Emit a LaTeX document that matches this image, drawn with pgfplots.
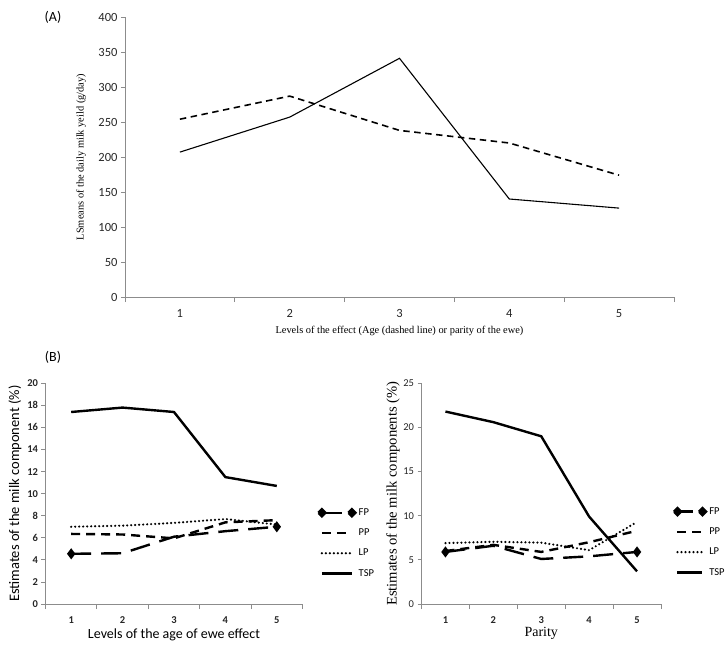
\documentclass[border=0pt]{standalone}
\usepackage{fontspec}
\setmainfont{Carlito}
\newfontfamily\timesf{Liberation Serif}
\usepackage{pgfplots}
\pgfplotsset{compat=1.18}

\pgfplotsset{
 excelaxis/.style={
  scale only axis,
  axis x line=bottom, axis y line=left,
  axis line style={-, draw=black!45, line width=0.8pt},
  xmin=0.5, xmax=5.5,
  xtick={1,2,3,4,5},
  minor xtick={0.5,1.5,2.5,3.5,4.5,5.5},
  major x tick style={draw=none},
  minor x tick style={draw=black!45, line width=0.8pt},
  y tick style={draw=black!45, line width=0.8pt},
  tick align=outside,
  major tick length=4pt, minor tick length=5pt,
  /pgf/number format/assume math mode=true,
  clip=false,
 },
 fpstyle/.style={black, line width=2.4pt, dash pattern=on 20pt off 10pt, mark=diamond*, mark indices={1,5}, mark size=3.6pt, mark options={solid}},
 ppstyle/.style={black, line width=2.4pt, dash pattern=on 9pt off 6pt},
 lpstyle/.style={black, line width=2.4pt, line cap=round, dash pattern=on 0pt off 4pt},
 tspstyle/.style={black, line width=2.4pt},
}

\begin{document}
\begin{tikzpicture}[x=1pt,y=1pt]
\path[use as bounding box] (0,0) rectangle (726,-649);

\node[font=\fontsize{14}{16}\selectfont] at (53,-17) {(A)};
\node[font=\fontsize{14}{16}\selectfont] at (53,-357) {(B)};

% ---------- Panel A ----------
\begin{axis}[excelaxis, at={(125pt,-297pt)}, anchor=south west, width=549pt, height=280pt,
 ymin=0, ymax=400, ytick distance=50,
 ticklabel style={font=\fontsize{12.5}{14}\selectfont, text=black!85},
 xticklabel style={yshift=-5pt},
 ylabel={\timesf LSmeans of the daily milk yeild (g/day)},
 ylabel style={font=\fontsize{10.4}{12}\selectfont, at={(axis description cs:-0.080,0.5)}, anchor=center},
 xlabel={\timesf Levels of the effect (Age (dashed line) or parity of the ewe)},
 xlabel style={font=\fontsize{10.4}{12}\selectfont, at={(axis description cs:0.5,-0.121)}, anchor=center},
]
\addplot[black, line width=1.1pt] coordinates {(1,207) (2,257) (3,341) (4,140) (5,127)};
\addplot[black, line width=1.6pt, dash pattern=on 6.5pt off 4.5pt] coordinates {(1,254) (2,287) (3,238) (4,220) (5,174)};
\end{axis}

% ---------- Panel B left ----------
\begin{axis}[excelaxis, at={(45.5pt,-604pt)}, anchor=south west, width=257pt, height=220.7pt,
 ymin=0, ymax=20, ytick distance=2,
 ticklabel style={font=\fontsize{10.5}{12}\selectfont\bfseries, text=black!85},
 xticklabel style={yshift=-5pt},
 ylabel={Estimates of the milk component (\%)},
 ylabel style={font=\fontsize{14.5}{16}\selectfont, at={(axis description cs:-0.119,0.5)}, anchor=center},
 xlabel={Levels of the age of ewe effect},
 xlabel style={font=\fontsize{14}{16}\selectfont, at={(axis description cs:0.5,-0.140)}, anchor=center},
 legend style={draw=none, fill=none, inner sep=0pt, at={(1.056,0.442)}, anchor=north west,
   font=\fontsize{10.5}{12}\selectfont, row sep=8pt},
 legend cell align=left,
 legend image code/.code={\draw[#1] (0pt,0pt) -- (30pt,0pt);},
]
\addplot[fpstyle, legend image code/.code={\draw[black, line width=2.4pt] (0pt,0pt) -- (20pt,0pt); \fill[black] (-3.6pt,0pt) -- (0pt,3.6pt) -- (3.6pt,0pt) -- (0pt,-3.6pt) -- cycle; \fill[black] (26.4pt,0pt) -- (30pt,3.6pt) -- (33.6pt,0pt) -- (30pt,-3.6pt) -- cycle;}] coordinates {(1,4.55) (2,4.6) (3,6.1) (4,6.6) (5,7.0)};
\addlegendentry{FP}
\addplot[ppstyle] coordinates {(1,6.35) (2,6.3) (3,5.95) (4,7.4) (5,7.6)};
\addlegendentry{PP}
\addplot[lpstyle] coordinates {(1,7.0) (2,7.1) (3,7.35) (4,7.7) (5,7.2)};
\addlegendentry{LP}
\addplot[tspstyle] coordinates {(1,17.4) (2,17.8) (3,17.4) (4,11.5) (5,10.7)};
\addlegendentry{TSP}
\end{axis}

% ---------- Panel B right ----------
\begin{axis}[excelaxis, at={(421.5pt,-604pt)}, anchor=south west, width=239.5pt, height=220.7pt,
 ymin=0, ymax=25, ytick distance=5,
 yticklabel style={font=\fontsize{10.5}{12}\selectfont, text=black!85},
 xticklabel style={font=\fontsize{10.5}{12}\selectfont\bfseries, text=black!85, yshift=-5pt},
 ylabel={\timesf Estimates of the milk components (\%)},
 ylabel style={font=\fontsize{14.6}{16}\selectfont, at={(axis description cs:-0.119,0.5)}, anchor=center},
 xlabel={\timesf Parity},
 xlabel style={font=\fontsize{14}{16}\selectfont, at={(axis description cs:0.5,-0.131)}, anchor=center},
 legend style={draw=none, fill=none, inner sep=0pt, at={(1.048,0.447)}, anchor=north west,
   font=\fontsize{10.5}{12}\selectfont, row sep=8pt},
 legend cell align=left,
 legend image code/.code={\draw[#1] (0pt,0pt) -- (25pt,0pt);},
]
\addplot[fpstyle, legend image code/.code={\draw[black, line width=2.4pt] (0pt,0pt) -- (16pt,0pt); \fill[black] (-3.6pt,0pt) -- (0pt,3.6pt) -- (3.6pt,0pt) -- (0pt,-3.6pt) -- cycle; \fill[black] (21.4pt,0pt) -- (25pt,3.6pt) -- (28.6pt,0pt) -- (25pt,-3.6pt) -- cycle;}] coordinates {(1,5.9) (2,6.6) (3,5.1) (4,5.4) (5,5.9)};
\addlegendentry{FP}
\addplot[ppstyle] coordinates {(1,6.0) (2,6.7) (3,5.9) (4,7.0) (5,8.3)};
\addlegendentry{PP}
\addplot[lpstyle] coordinates {(1,6.9) (2,7.05) (3,6.95) (4,6.1) (5,9.3)};
\addlegendentry{LP}
\addplot[tspstyle] coordinates {(1,21.8) (2,20.6) (3,19.0) (4,9.9) (5,3.7)};
\addlegendentry{TSP}
\end{axis}
\end{tikzpicture}
\end{document}
